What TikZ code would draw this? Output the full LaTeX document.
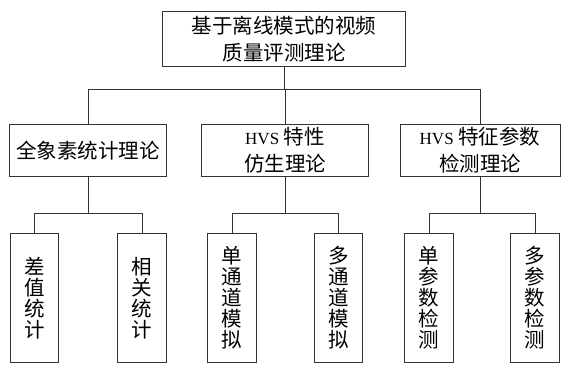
\documentclass[tikz,border=0pt]{standalone}
\usepackage{fontspec}
\setmainfont{Liberation Serif}
\newfontfamily\cjk{Noto Sans CJK SC}
\newcommand{\hvs}{{\rmfamily\fontsize{17}{27}\selectfont HVS}}
\newcommand{\boxfont}{\cjk\fontsize{20.5}{27}\selectfont}
\newcommand{\vstack}[1]{\vbox{\baselineskip=21pt\lineskiplimit=-100pt\lineskip=0pt #1}}
\begin{document}
\begin{tikzpicture}[x=1pt,y=-1pt,
  box/.style={draw=black!80, line width=1pt, rectangle, inner sep=0pt, align=center,
    font=\boxfont},
  leaf/.style={draw=black!80, line width=1pt, rectangle, inner sep=0pt,
    minimum width=48.5pt, minimum height=129.5pt, font=\boxfont},
  conn/.style={draw=black!80, line width=1pt}]
\useasboundingbox (0,0) rectangle (562,365);
\node[box, minimum width=243pt, minimum height=54.3pt] (t) at (284,38.9) {基于离线模式的视频\\质量评测理论};
\node[box, minimum width=157.4pt, minimum height=52.5pt] (b1) at (88,150.3) {全象素统计理论};
\node[box, minimum width=166.6pt, minimum height=52.5pt] (b2) at (285,150.3) {\hvs\ 特性\\仿生理论};
\node[box, minimum width=160pt, minimum height=52.5pt] (b3) at (480,150.3) {\hvs\ 特征参数\\检测理论};
\coordinate (jt) at (0,89.3);
\coordinate (j) at (0,213.7);
\node[leaf] (l1) at (34.5,298) {\vstack{\hbox{差}\hbox{值}\hbox{统}\hbox{计}}};
\node[leaf] (l2) at (142,298) {\vstack{\hbox{相}\hbox{关}\hbox{统}\hbox{计}}};
\node[leaf] (l3) at (232,298) {\vstack{\hbox{单}\hbox{通}\hbox{道}\hbox{模}\hbox{拟}}};
\node[leaf] (l4) at (338.5,298) {\vstack{\hbox{多}\hbox{通}\hbox{道}\hbox{模}\hbox{拟}}};
\node[leaf] (l5) at (429,298) {\vstack{\hbox{单}\hbox{参}\hbox{数}\hbox{检}\hbox{测}}};
\node[leaf] (l6) at (535,298) {\vstack{\hbox{多}\hbox{参}\hbox{数}\hbox{检}\hbox{测}}};
\draw[conn] (t.south) -- (t.south |- jt);
\draw[conn] (b1.north) -- (b1.north |- jt) -- (b3.north |- jt) -- (b3.north);
\draw[conn] (b2.north) -- (b2.north |- jt);
\draw[conn] (b1.south) -- (b1.south |- j);
\draw[conn] (b2.south) -- (b2.south |- j);
\draw[conn] (b3.south) -- (b3.south |- j);
\draw[conn] (l1.north) -- (l1.north |- j) -- (l2.north |- j) -- (l2.north);
\draw[conn] (l3.north) -- (l3.north |- j) -- (l4.north |- j) -- (l4.north);
\draw[conn] (l5.north) -- (l5.north |- j) -- (l6.north |- j) -- (l6.north);
\end{tikzpicture}
\end{document}
